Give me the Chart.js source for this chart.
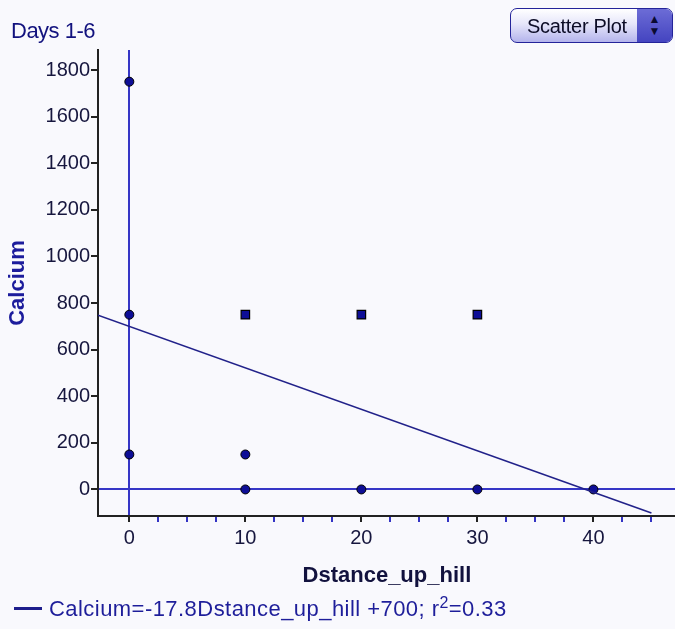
<!DOCTYPE html>
<html lang="en">

<head>
    <meta charset="UTF-8">
    <title>Days 1-6</title>
    <style>
        body { margin: 0; background: #f9f9fd; font-family: "Liberation Sans", Arial, sans-serif; overflow: hidden; }
        #wrap { position: relative; width: 675px; height: 629px; overflow: hidden; }
        #myChart { position: absolute; left: 0; top: 0; }
        #title { position: absolute; left: 11px; top: 20px; font-size: 22px; line-height: 22px; color: #12127e; letter-spacing: -0.5px; }
        #legend { position: absolute; left: 14px; top: 598px; font-size: 22px; line-height: 22px; color: #1e1e9a; letter-spacing: 0.45px; white-space: nowrap; }
        #legend .swatch { display: inline-block; width: 28px; height: 3px; background: #1e1e8c; vertical-align: 6px; margin-right: 7px; }
        #legend sup { font-size: 16px; line-height: 0; vertical-align: 8px; }
        #plotType { position: absolute; left: 510px; top: 8px; width: 163px; height: 35px; box-sizing: border-box;
            border: 1.5px solid #24249a; border-radius: 7px; overflow: hidden;
            background: linear-gradient(#ffffff, #e6e6fa 45%, #b4b4ec); }
        #plotType .txt { position: absolute; left: 16px; top: 6px; font-size: 20px; line-height: 22px; color: #0c0c26; letter-spacing: -0.3px; }
        #plotType .spin { position: absolute; right: 0; top: 0; width: 35px; height: 100%;
            background: linear-gradient(#6c6cd6, #4444c0); color: #0a0a30; font-size: 12px; line-height: 12px; text-align: center; padding-top: 4px; box-sizing: border-box; }
    </style>
</head>

<body>
    <div id="wrap">
        <!-- canvas is a bit wider than the window: chart.js keeps a small gap at the right of the plot -->
        <canvas id="myChart" width="683" height="629"></canvas>
        <div id="title">Days 1-6</div>
        <div id="plotType"><span class="txt">Scatter Plot</span><span class="spin">&#9650;<br>&#9660;</span></div>
        <div id="legend"><span class="swatch"></span>Calcium=-17.8Dstance_up_hill +700; r<sup>2</sup>=0.33</div>
    </div>

    <script src="https://cdn.jsdelivr.net/npm/chart.js"></script>
    <script>
        // observations drawn as round dots
        const dotX = [0, 0, 0, 10, 10, 20, 30, 40];
        const dotY = [1750, 750, 150, 150, 0, 0, 0, 0];
        // observations drawn as squares
        const boxX = [10, 20, 30];
        const boxY = [750, 750, 750];
        // fitted line, ends
        const fitX = [-2.7, 45];
        const fitY = [748, -101];

        const xTicks = [0, 2.5, 5, 7.5, 10, 12.5, 15, 17.5, 20, 22.5, 25, 27.5, 30, 32.5, 35, 37.5, 40, 42.5, 45];
        const xLabels = ['0', '', '', '', '10', '', '', '', '20', '', '', '', '30', '', '', '', '40', '', ''];
        const yTicks = [0, 200, 400, 600, 800, 1000, 1200, 1400, 1600, 1800];

        const zeroBlue = '#3636c6';
        const ink = '#16163e';

        const toPts = (xs, ys) => xs.map((x, i) => ({ x: x, y: ys[i] }));

        const canvas = document.getElementById('myChart');

        new Chart(canvas, {
            type: 'scatter',
            data: {
                datasets: [
                    {
                        label: 'fit',
                        type: 'line',
                        data: toPts(fitX, fitY),
                        borderColor: '#22228a',
                        borderWidth: 1.6,
                        pointRadius: 0,
                        fill: false
                    },
                    {
                        label: 'dots',
                        data: toPts(dotX, dotY),
                        pointStyle: 'circle',
                        pointRadius: 4.5,
                        backgroundColor: '#0e0e96',
                        borderColor: '#000',
                        borderWidth: 1
                    },
                    {
                        label: 'squares',
                        data: toPts(boxX, boxY),
                        pointStyle: 'rect',
                        pointRadius: 6,
                        backgroundColor: '#0e0e96',
                        borderColor: '#000',
                        borderWidth: 1.2
                    }
                ]
            },
            options: {
                responsive: false,
                animation: false,
                devicePixelRatio: 1,
                layout: { padding: { top: 50, left: 0, right: 0, bottom: 33 } },
                plugins: {
                    legend: { display: false },
                    tooltip: { enabled: false },
                    title: { display: false }
                },
                scales: {
                    x: {
                        type: 'linear',
                        min: -2.7,
                        max: 47.1,
                        afterBuildTicks: (s) => { s.ticks = xTicks.map((v) => ({ value: v })); },
                        afterFit: (s) => { s.height = 80; },
                        ticks: {
                            autoSkip: false,
                            maxRotation: 0,
                            padding: 4,
                            color: ink,
                            font: { family: '"Liberation Sans", Arial, sans-serif', size: 20 },
                            callback: (v, i) => xLabels[i]
                        },
                        grid: {
                            color: (c) => (c.tick && c.tick.value === 0 ? zeroBlue : 'rgba(0,0,0,0)'),
                            tickColor: (c) => (c.tick && c.tick.value % 10 === 0 ? '#222' : '#3434c4'),
                            lineWidth: 2,
                            tickWidth: 2,
                            tickLength: 6
                        },
                        border: { display: true, color: '#222', width: 2 },
                        title: {
                            display: true,
                            text: 'Dstance_up_hill',
                            color: '#12123e',
                            font: { family: '"Liberation Sans", Arial, sans-serif', size: 22, weight: 'bold' },
                            padding: { top: 0, bottom: 7 }
                        }
                    },
                    y: {
                        type: 'linear',
                        min: -114,
                        max: 1886,
                        afterBuildTicks: (s) => { s.ticks = yTicks.map((v) => ({ value: v })); },
                        afterFit: (s) => { s.width = 98; },
                        ticks: {
                            padding: 1,
                            color: ink,
                            font: { family: '"Liberation Sans", Arial, sans-serif', size: 20 },
                            callback: (v) => String(v)
                        },
                        grid: {
                            color: (c) => (c.tick && c.tick.value === 0 ? zeroBlue : 'rgba(0,0,0,0)'),
                            tickColor: '#222',
                            lineWidth: 2,
                            tickWidth: 2,
                            tickLength: 7
                        },
                        border: { display: true, color: '#222', width: 2 },
                        title: {
                            display: true,
                            text: 'Calcium',
                            color: '#1c1c9c',
                            font: { family: '"Liberation Sans", Arial, sans-serif', size: 22, weight: 'bold' },
                            padding: { top: 5, bottom: 0 }
                        }
                    }
                }
            }
        });
    </script>
</body>

</html>
